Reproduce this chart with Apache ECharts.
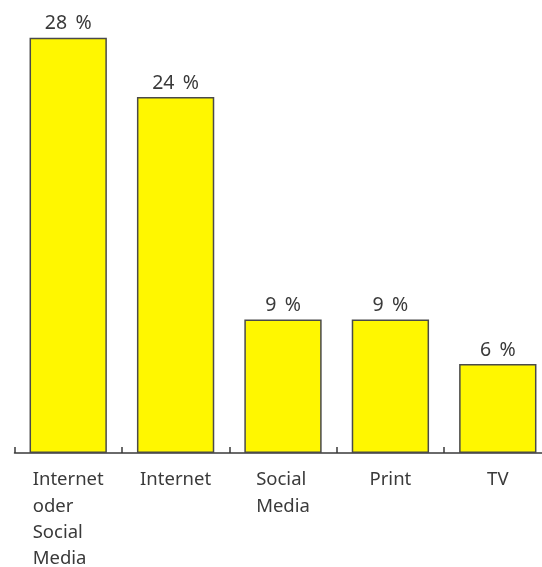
<!DOCTYPE html>
<html>
<head>
<meta charset="utf-8">
<script src="https://cdn.jsdelivr.net/npm/echarts@6/dist/echarts.min.js"></script>
<style>
html,body{margin:0;padding:0;background:#fff;}
#chart{width:542px;height:567px;}
</style>
</head>
<body>
<div id="chart"></div>
<script>
const categories = [["Internet","oder","Social","Media"],["Internet"],["Social","Media"],["Print"],["TV"]];
const values = [28, 24, 9, 9, 6];
const valueSuffix = " %";

const chart = echarts.init(document.getElementById('chart'), null, {renderer:'canvas'});
const catNames = categories.map(c => c.join('\n'));
chart.setOption({
  animation: false,
  backgroundColor: '#ffffff',
  grid: {left: 14.5, width: 537, top: 8, bottom: 114, containLabel: false, outerBoundsMode: 'none'},
  xAxis: {
    type: 'category',
    data: catNames,
    boundaryGap: true,
    axisLine: {show: true, lineStyle: {color: '#3a3a3a', width: 1.5}},
    axisTick: {show: true, inside: true, length: 6, alignWithLabel: false, lineStyle: {color: '#3a3a3a', width: 1.5}},
    axisLabel: {
      interval: 0,
      margin: 14,
      color: '#3a3a3a',
      fontFamily: 'Noto Sans',
      fontSize: 18.5,
      lineHeight: 26.3,
      formatter: function (v) {
        return v.split('\n').map(l => '{a|' + l + '}').join('\n');
      },
      rich: {a: {fontFamily: 'Noto Sans', fontSize: 18.5, lineHeight: 26.3, color: '#3a3a3a', align: 'left'}}
    }
  },
  yAxis: {type: 'value', min: 0, max: 30, show: false, splitLine: {show: false}},
  series: [{
    type: 'bar',
    data: values,
    barWidth: '72%',
    itemStyle: {color: '#fff700', borderColor: '#4a4a4a', borderWidth: 1.5},
    label: {
      show: true,
      position: 'top',
      distance: 4,
      color: '#3a3a3a',
      fontFamily: 'Noto Sans',
      fontSize: 19.5,
      formatter: p => p.value + '\u2009' + valueSuffix
    }
  }]
});
</script>
</body>
</html>
